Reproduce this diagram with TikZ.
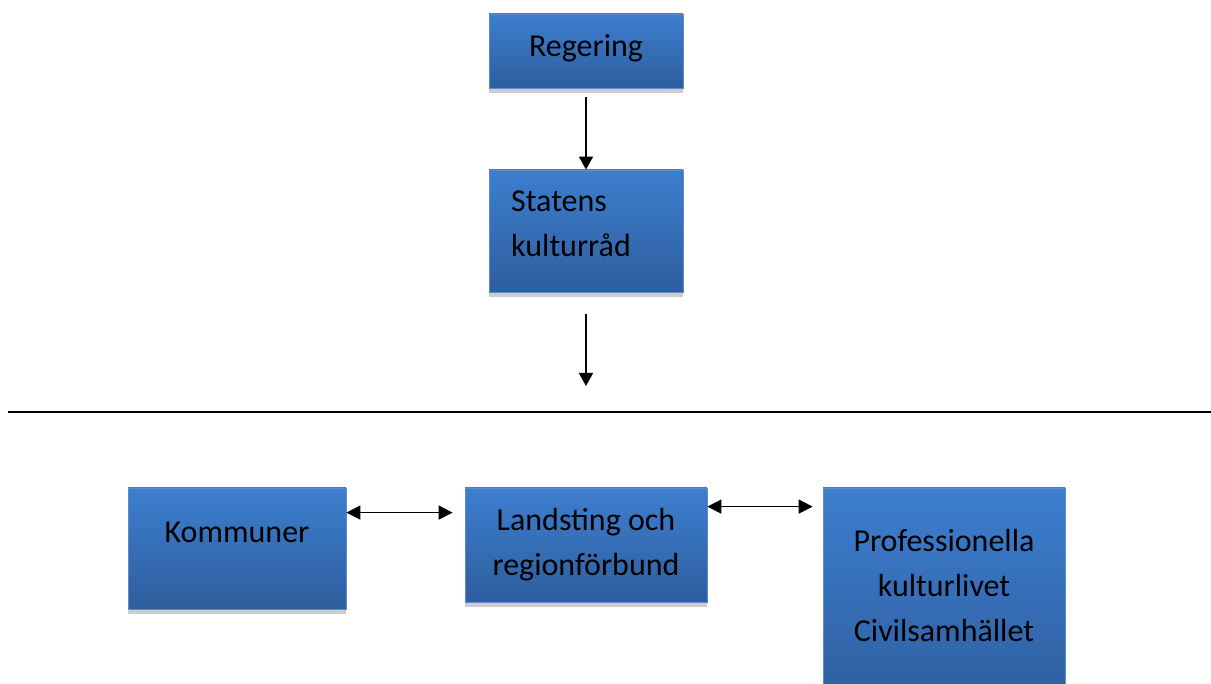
\documentclass[tikz,border=0pt]{standalone}
\usepackage{fontspec}
\setmainfont{Carlito}
\usetikzlibrary{arrows.meta,calc,shadows}
\definecolor{topblue}{HTML}{3D7ECF}
\definecolor{botblue}{HTML}{2E5E9E}
\definecolor{edgeblue}{HTML}{5B8CCB}
\definecolor{shadowgray}{HTML}{CDCDCD}
\begin{document}
\begin{tikzpicture}[x=1pt,y=-1pt,
 bluebox/.style={draw=edgeblue, line width=0.8pt, top color=topblue, bottom color=botblue, inner sep=0pt,
   drop shadow={shadow xshift=0pt, shadow yshift=-5pt, fill=shadowgray, opacity=1}},
 boxtext/.style={font=\fontsize{32}{45}\selectfont, inner sep=0pt, anchor=base},
 link/.style={line width=1.6pt, -{Triangle[length=13pt,width=14pt]}},
 dlink/.style={line width=1.6pt, {Triangle[length=14pt,width=14pt]}-{Triangle[length=14pt,width=14pt]}}]
\clip (0,0) rectangle (1211,684);
\fill[white] (0,0) rectangle (1211,684);
% boxes
\node[bluebox, minimum width=194pt, minimum height=74pt] (reg) at (586,51) {};
\node[bluebox, minimum width=194pt, minimum height=122pt] (stat) at (586,231) {};
\node[bluebox, minimum width=218pt, minimum height=121pt] (kom) at (237,548.5) {};
\node[bluebox, minimum width=242pt, minimum height=114pt] (lan) at (586,545) {};
\node[bluebox, minimum width=242pt, minimum height=220pt] (prof) at (944,598) {};
% texts
\node[boxtext] (regt) at (586,57) {Regering};
\node[boxtext, anchor=base west] (statt) at (511,212) {\parbox[t]{200pt}{Statens\\kulturråd}};
\node[boxtext] (komt) at (237,543) {Kommuner};
\node[boxtext] (lant) at (586,531) {\parbox[t]{260pt}{\centering Landsting och\\regionförbund}};
\node[boxtext] (proft) at (944,551) {\parbox[t]{260pt}{\centering Professionella\\kulturlivet\\Civilsamhället}};
% connectors
\draw[link, shorten <=9pt] (reg.south) -- (stat.north);
\coordinate (down) at (586,386);
\draw[link, shorten <=22pt] (stat.south) -- (down);
\coordinate (hl) at (8,412);
\coordinate (hr) at (1211,412);
\draw[line width=2.2pt] (hl) -- (hr);
\coordinate (k1) at ([yshift=-25pt]kom.north east);
\draw[dlink, shorten >=12pt] (k1) -- (lan.west |- k1);
\coordinate (l1) at ([yshift=-19pt]lan.north east);
\draw[dlink, shorten >=10pt] (l1) -- (prof.west |- l1);
\end{tikzpicture}
\end{document}
